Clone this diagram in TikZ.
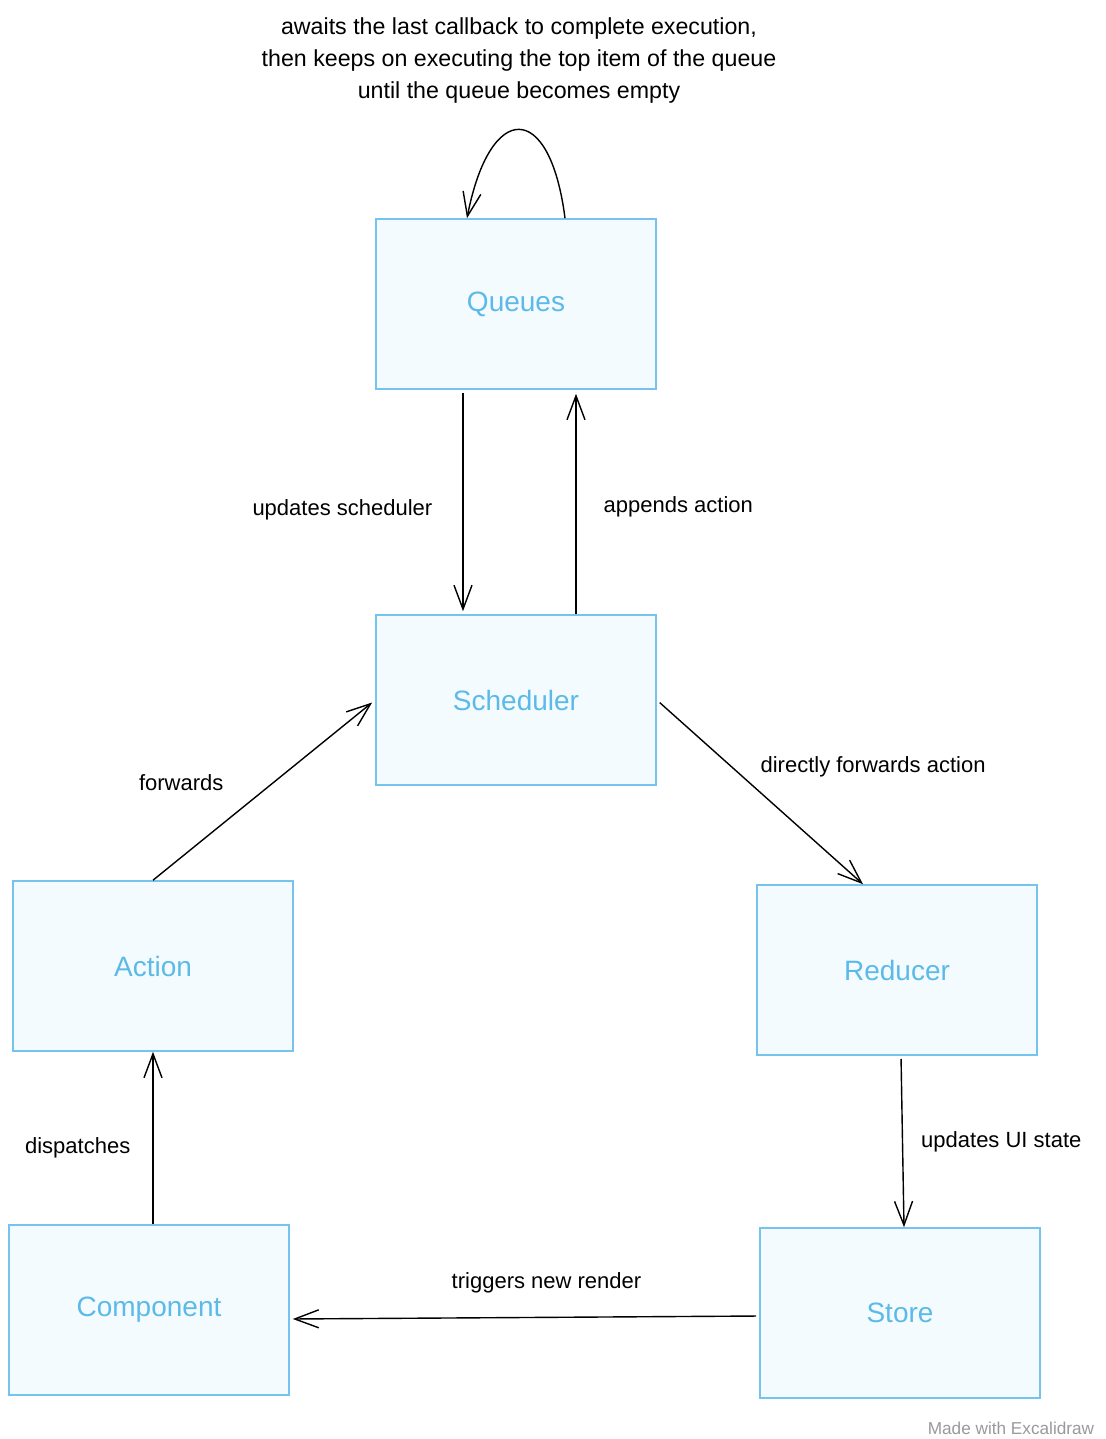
\documentclass[tikz,border=0pt]{standalone}
\usepackage{fontspec}
\setmainfont{Liberation Sans}
\usetikzlibrary{positioning}
\usetikzlibrary{arrows.meta}
\definecolor{boxline}{RGB}{118,196,238}
\definecolor{boxfill}{RGB}{244,251,254}
\definecolor{boxtext}{RGB}{92,186,232}

\begin{document}
\begin{tikzpicture}[x=1pt,y=1pt,node distance=10mm,on grid,>={Straight Barb[length=12pt,width=9pt]},
		block/.style={rectangle,draw=boxline,fill=boxfill,line width=0.8pt,minimum width=140pt,minimum height=85pt,
			text=boxtext,font=\fontsize{14}{16}\selectfont},
		lbl/.style={inner sep=0pt,font=\fontsize{11}{13}\selectfont},
		conn/.style={->,line width=0.7pt}]
		\useasboundingbox (0,0) rectangle (552.5,-719.5);
		
		\node[block]  (queues)  at (258,-152)                          {Queues};
		\node[block]  (sched)   [below=198pt of queues]                {Scheduler};
		\node[block]  (action)  [below left=133pt and 181.5pt of sched] {Action};
		\node[block]  (reducer) [below right=135pt and 190.5pt of sched] {Reducer};
		\node[block]  (comp)    [below=172pt of action, xshift=-2pt]   {Component};
		\node[block]  (store)   [below=171.5pt of reducer, xshift=1.5pt] {Store};
		
		% loop on top of the queues
		\draw[conn] ([xshift=24.5pt]queues.north) .. controls +(-7.5pt,59pt) and +(11.5pt,59pt) .. ([xshift=-24.5pt]queues.north)
			node[pos=0.5, above=13pt, lbl, align=center, font=\fontsize{11.6}{16}\selectfont]
			{awaits the last callback to complete execution,\\then keeps on executing the top item of the queue\\until the queue becomes empty};
		
		\path[conn]
		([xshift=-26.5pt]queues.south) edge[shorten <=1.5pt, shorten >=1.5pt] node[lbl, left=15pt, yshift=-4pt] {updates scheduler} ([xshift=-26.5pt]sched.north)
		([xshift=30pt]sched.north) edge[shorten >=2pt] node[lbl, right=13.5pt, yshift=-2.5pt] {appends action} ([xshift=30pt]queues.south)
		(sched.east) edge[shorten <=2pt] node[lbl, anchor=south west, yshift=7pt] {directly forwards action} ([xshift=-17pt]reducer.north)
		(action.north) edge[shorten >=2pt] node[lbl, anchor=east, xshift=-20pt, yshift=3.5pt] {forwards} (sched.west)
		([xshift=2pt]reducer.south) edge[shorten <=1.5pt] node[lbl, right=9pt] {updates UI state} ([xshift=2pt]store.north)
		([yshift=-1.5pt]store.west) edge[shorten <=1.5pt, shorten >=1.5pt] node[lbl, above=12pt, xshift=11pt] {triggers new render} ([yshift=-4.5pt]comp.east)
		([xshift=2pt]comp.north) edge node[lbl, left=11pt, yshift=-5pt] {dispatches} (action.south);
		
		\node[lbl, text=black!40, font=\fontsize{8.6}{10}\selectfont] (mark) at (505.5,-714) {Made with Excalidraw};
		\end{tikzpicture}
\end{document}
